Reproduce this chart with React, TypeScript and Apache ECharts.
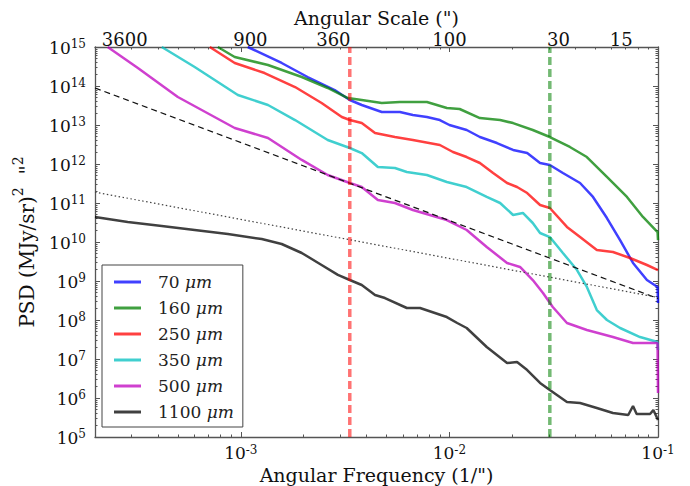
import React, { useEffect, useRef } from 'react';
import * as echarts from 'echarts';

// ---------- data ----------
const FREQ_MIN = 2e-4; // 1/"
const FREQ_MAX = 0.1;
const PSD_MIN_EXP = 5;
const PSD_MAX_EXP = 15;

const xMajorExps = [-3, -2, -1];
const yMajorExps = [5, 6, 7, 8, 9, 10, 11, 12, 13, 14, 15];
const angularScaleLabels = [3600, 900, 360, 100, 30, 15]; // arcsec

const bandNames = ['70 μm', '160 μm', '250 μm', '350 μm', '500 μm', '1100 μm'];
const bandColors = ['#0000ff', '#008000', '#ff0000', '#00bfbf', '#bf00bf', '#000000'];

// [angular frequency (1/"), PSD (MJy/sr)^2 "^2]
const psd70: number[][] = [
  [1.08e-3, 1.0e15], [1.57e-3, 3.89e14], [2.09e-3, 1.7e14], [2.82e-3, 7.89e13],
  [3.33e-3, 4.38e13], [3.8e-3, 3.26e13], [4.74e-3, 2.15e13], [5.79e-3, 2.15e13],
  [6.68e-3, 1.8e13], [7.8e-3, 1.6e13], [9.0e-3, 1.34e13], [1.0e-2, 1.0e13],
  [1.21e-2, 7.45e12], [1.4e-2, 4.92e12], [1.69e-2, 3.45e12], [2.02e-2, 2.29e12],
  [2.36e-2, 1.91e12], [2.72e-2, 1.06e12], [3.03e-2, 9.42e11], [3.5e-2, 5.87e11],
  [4.23e-2, 3.26e11], [4.88e-2, 1.43e11], [5.69e-2, 4.12e10], [6.58e-2, 1.12e10],
  [7.59e-2, 2.9e9], [8.85e-2, 1.06e9], [9.95e-2, 7.02e8], [1.0e-1, 2.73e8],
];
const psd160: number[][] = [
  [7.76e-4, 1.0e15], [9.35e-4, 5.55e14], [1.35e-3, 3.45e14], [1.96e-3, 1.7e14],
  [2.61e-3, 8.89e13], [3.26e-3, 4.92e13], [3.8e-3, 4.38e13], [4.74e-3, 3.66e13],
  [5.79e-3, 3.89e13], [7.8e-3, 3.89e13], [9.72e-3, 2.73e13], [1.12e-2, 2.57e13],
  [1.4e-2, 1.51e13], [1.75e-2, 1.34e13], [2.02e-2, 1.12e13], [2.51e-2, 7.45e12],
  [3.03e-2, 4.92e12], [3.78e-2, 2.73e12], [4.56e-2, 1.51e12], [5.69e-2, 4.65e11],
  [7.1e-2, 1.43e11], [8.47e-2, 4.38e10], [9.95e-2, 1.8e10], [1.0e-1, 1.12e10],
];
const psd250: number[][] = [
  [7.1e-4, 1.0e15], [9.35e-4, 3.89e14], [1.3e-3, 2.15e14], [1.82e-3, 9.42e13],
  [2.44e-3, 3.66e13], [3.05e-3, 1.6e13], [3.33e-3, 1.34e13], [3.8e-3, 1.12e13],
  [4.4e-3, 6.24e12], [5.48e-3, 4.92e12], [6.68e-3, 4.12e12], [9.0e-3, 3.07e12],
  [1.04e-2, 2.03e12], [1.21e-2, 1.51e12], [1.4e-2, 1.06e12], [1.62e-2, 5.87e11],
  [1.89e-2, 3.26e11], [2.11e-2, 2.57e11], [2.36e-2, 1.8e11], [2.72e-2, 8.89e10],
  [3.03e-2, 7.45e10], [3.66e-2, 2.43e10], [4.23e-2, 1.34e10], [5.09e-2, 6.24e9],
  [6.08e-2, 5.55e9], [7.34e-2, 3.89e9], [8.85e-2, 2.57e9], [1.0e-1, 1.91e9],
];
const psd350: number[][] = [
  [4.18e-4, 1.0e15], [6.01e-4, 3.07e14], [9.68e-4, 5.87e13], [1.35e-3, 3.26e13],
  [1.82e-3, 1.34e13], [2.61e-3, 4.12e12], [3.33e-3, 2.57e12], [3.8e-3, 1.91e12],
  [4.54e-3, 8.38e11], [5.48e-3, 7.89e11], [6.25e-3, 6.24e11], [7.8e-3, 5.22e11],
  [9.72e-3, 3.45e11], [1.21e-2, 2.57e11], [1.51e-2, 1.43e11], [1.75e-2, 1.0e11],
  [2.02e-2, 4.92e10], [2.25e-2, 5.55e10], [2.51e-2, 3.07e10], [2.72e-2, 1.7e10],
  [3.03e-2, 1.34e10], [3.5e-2, 5.22e9], [4.09e-2, 1.91e9], [4.56e-2, 7.02e8],
  [5.09e-2, 1.8e8], [5.69e-2, 1.0e8], [6.58e-2, 6.24e7], [8.2e-2, 3.66e7],
  [9.95e-2, 2.73e7], [1.0e-1, 1.7e7],
];
const psd500: number[][] = [
  [2.3e-4, 1.0e15], [3.21e-4, 2.9e14], [4.99e-4, 5.22e13], [9.35e-4, 8.38e12],
  [1.35e-3, 4.65e12], [1.96e-3, 1.27e12], [2.61e-3, 5.22e11], [3.33e-3, 3.26e11],
  [3.8e-3, 2.57e11], [4.54e-3, 1.19e11], [5.48e-3, 1.0e11], [6.68e-3, 6.62e10],
  [9.72e-3, 3.66e10], [1.21e-2, 2.03e10], [1.51e-2, 7.45e9], [1.89e-2, 2.9e9],
  [2.18e-2, 2.29e9], [2.51e-2, 1.06e9], [2.81e-2, 4.92e8], [3.13e-2, 2.15e8],
  [3.66e-2, 8.38e7], [4.56e-2, 5.55e7], [6.08e-2, 3.66e7], [7.59e-2, 2.57e7],
  [9.95e-2, 2.57e7], [1.0e-1, 1.34e6],
];
const psd1100: number[][] = [
  [2.0e-4, 4.38e10], [2.87e-4, 3.26e10], [4.18e-4, 2.57e10], [6.01e-4, 2.03e10],
  [8.67e-4, 1.6e10], [1.26e-3, 1.19e10], [1.57e-3, 8.89e9], [1.96e-3, 5.22e9],
  [2.44e-3, 2.57e9], [2.92e-3, 1.43e9], [3.33e-3, 1.06e9], [3.8e-3, 7.89e8],
  [4.4e-3, 4.38e8], [4.91e-3, 3.66e8], [6.25e-3, 2.03e8], [7.23e-3, 2.03e8],
  [9.72e-3, 1.19e8], [1.09e-2, 8.38e7], [1.21e-2, 6.24e7], [1.51e-2, 2.03e7],
  [1.89e-2, 7.89e6], [2.11e-2, 8.38e6], [2.36e-2, 5.22e6], [2.72e-2, 2.43e6],
  [3.03e-2, 1.6e6], [3.66e-2, 7.89e5], [4.23e-2, 7.45e5], [5.09e-2, 5.55e5],
  [6.08e-2, 4.12e5], [7.2e-2, 3.66e5], [7.59e-2, 6.24e5], [7.9e-2, 3.9e5],
  [9.16e-2, 3.9e5], [9.5e-2, 4.9e5], [9.95e-2, 2.9e5], [1.0e-1, 2.73e5],
];
const bandData = [psd70, psd160, psd250, psd350, psd500, psd1100];

// reference power laws (end points)
const slopeMinus2: number[][] = [[2e-4, 8.9e13], [1e-1, 3.55e8]];
const slopeMinus1: number[][] = [[2e-4, 1.9e11], [1e-1, 3.8e8]];

// vertical markers (angular frequency)
const redMarkerFreq = 3.33e-3;
const greenMarkerFreq = 3.03e-2;

// ---------- styling ----------
const FONT = "'DejaVu Serif', serif";
const AX = '#555';
const TXT = '#111';

const toLog = (pts: number[][]) => pts.map(([f, p]) => [Math.log10(f), Math.log10(p)]);

const minorExps = (lo: number, hi: number) => {
  const out: number[] = [];
  for (let k = Math.floor(lo); k < Math.ceil(hi); k++) {
    for (let m = 2; m <= 9; m++) {
      const v = k + Math.log10(m);
      if (v > lo + 1e-9 && v < hi - 1e-9) out.push(v);
    }
  }
  return out;
};

const xLo = Math.log10(FREQ_MIN);
const xHi = Math.log10(FREQ_MAX);
const xMinor = minorExps(xLo, xHi);
const yMinor = minorExps(PSD_MIN_EXP, PSD_MAX_EXP);
const scaleExps = angularScaleLabels.map((s) => Math.log10(1 / s));

const supRich = {
  b: { fontFamily: FONT, fontSize: 17, color: TXT, lineHeight: 18, verticalAlign: 'bottom' },
  s: { fontFamily: FONT, fontSize: 12, color: TXT, lineHeight: 8, verticalAlign: 'top' },
};

const tickStyle = { color: AX, width: 1 };

export default function App() {
  const ref = useRef<HTMLDivElement>(null);

  useEffect(() => {
    if (!ref.current) return;
    const chart = echarts.init(ref.current, null, { renderer: 'svg' });

    const baseX = {
      type: 'value',
      min: xLo,
      max: xHi,
      nameMoveOverlap: false,
      splitLine: { show: false },
      axisLine: { show: true, onZero: false, lineStyle: { color: AX, width: 1.3 } },
    };
    const baseY = {
      type: 'value',
      min: PSD_MIN_EXP,
      max: PSD_MAX_EXP,
      nameMoveOverlap: false,
      splitLine: { show: false },
      axisLine: { show: true, onZero: false, lineStyle: { color: AX, width: 1.3 } },
    };

    const curves = bandNames.map((name, i) => ({
      type: 'line',
      name,
      data: toLog(bandData[i]),
      xAxisIndex: 0,
      yAxisIndex: 0,
      symbol: 'none',
      showSymbol: false,
      clip: true,
      lineStyle: { color: bandColors[i], width: 2.5, opacity: 0.75 },
      itemStyle: { color: bandColors[i], opacity: 0.75 },
      z: 3,
    }));

    const option: any = {
      animation: false,
      backgroundColor: '#fff',
      grid: { left: 95, right: 32, top: 47, bottom: 49, containLabel: false, outerBoundsMode: 'none' },
      legend: {
        orient: 'vertical',
        left: 102,
        top: 265,
        padding: [7, 9, 5, 12],
        itemGap: 6,
        itemWidth: 27,
        itemHeight: 3,
        icon: 'rect',
        backgroundColor: '#fff',
        borderColor: '#444',
        borderWidth: 1,
        borderRadius: 0,
        data: bandNames,
        selectedMode: false,
        formatter: (name: string) => {
          const [num, unit] = name.split(' ');
          return `{n|${num} }{u|${unit}}`;
        },
        textStyle: {
          lineHeight: 20,
          rich: {
            n: { fontFamily: FONT, fontSize: 17, color: '#222', padding: [0, 0, 0, 12], lineHeight: 20 },
            u: { fontFamily: FONT, fontSize: 17, fontStyle: 'italic', color: '#222', lineHeight: 20 },
          },
        },
        z: 10,
      },
      xAxis: [
        {
          ...baseX,
          position: 'bottom',
          axisTick: { show: true, inside: true, length: 5, customValues: xMajorExps, lineStyle: tickStyle },
          axisLabel: {
            customValues: xMajorExps,
            margin: 6.5,
            formatter: (v: number) => `{b|10}{s|${Math.round(v)}}`,
            rich: supRich,
          },
          name: 'Angular Frequency (1/")',
          nameLocation: 'middle',
          nameGap: 29.5,
          nameTextStyle: { fontFamily: FONT, fontSize: 19, lineHeight: 16, color: TXT, verticalAlign: 'top' },
        },
        {
          ...baseX,
          position: 'bottom',
          axisLine: { show: false },
          axisTick: { show: true, inside: true, length: 2.5, customValues: xMinor, lineStyle: tickStyle },
          axisLabel: { show: false },
        },
        {
          ...baseX,
          position: 'top',
          axisTick: { show: true, inside: true, length: 5, customValues: xMajorExps, lineStyle: tickStyle },
          axisLabel: {
            customValues: scaleExps,
            margin: 0.5,
            fontFamily: FONT,
            fontSize: 18,
            lineHeight: 14,
            color: TXT,
            formatter: (v: number) => {
              const i = scaleExps.findIndex((e) => Math.abs(e - v) < 1e-6);
              return i >= 0 ? String(angularScaleLabels[i]) : '';
            },
          },
          name: 'Angular Scale (")',
          nameLocation: 'middle',
          nameGap: 20.5,
          nameTextStyle: { fontFamily: FONT, fontSize: 19, lineHeight: 18, color: TXT, verticalAlign: 'bottom' },
        },
        {
          ...baseX,
          position: 'top',
          axisLine: { show: false },
          axisTick: { show: true, inside: true, length: 2.5, customValues: xMinor, lineStyle: tickStyle },
          axisLabel: { show: false },
        },
      ],
      yAxis: [
        {
          ...baseY,
          position: 'left',
          axisTick: { show: true, inside: true, length: 5, customValues: yMajorExps, lineStyle: tickStyle },
          axisLabel: {
            customValues: yMajorExps,
            margin: 9,
            formatter: (v: number) => `{b|10}{s|${Math.round(v)}}`,
            rich: supRich,
          },
          name: '{b|PSD (MJy/sr)}{s|2}{b|  "}{s|2}',
          nameLocation: 'middle',
          nameRotate: 90,
          nameGap: 58,
          nameTextStyle: {
            rich: {
              b: { fontFamily: FONT, fontSize: 20, color: TXT, lineHeight: 26, verticalAlign: 'bottom' },
              s: { fontFamily: FONT, fontSize: 14, color: TXT, lineHeight: 14, verticalAlign: 'top' },
            },
          },
        },
        {
          ...baseY,
          position: 'left',
          axisLine: { show: false },
          axisTick: { show: true, inside: true, length: 2.5, customValues: yMinor, lineStyle: tickStyle },
          axisLabel: { show: false },
        },
        {
          ...baseY,
          position: 'right',
          axisTick: { show: true, inside: true, length: 5, customValues: yMajorExps, lineStyle: tickStyle },
          axisLabel: { show: false },
        },
        {
          ...baseY,
          position: 'right',
          axisLine: { show: false },
          axisTick: { show: true, inside: true, length: 2.5, customValues: yMinor, lineStyle: tickStyle },
          axisLabel: { show: false },
        },
      ],
      series: [
        ...curves,
        {
          type: 'line',
          name: 'slope -2',
          data: toLog(slopeMinus2),
          symbol: 'none',
          lineStyle: { color: '#111', width: 1.2, type: [6, 4] },
          z: 4,
        },
        {
          type: 'line',
          name: 'slope -1',
          data: toLog(slopeMinus1),
          symbol: 'none',
          lineStyle: { color: '#444', width: 1.2, type: [1.5, 2.5] },
          z: 4,
        },
        {
          type: 'line',
          name: 'red marker',
          data: [[Math.log10(redMarkerFreq), PSD_MIN_EXP], [Math.log10(redMarkerFreq), PSD_MAX_EXP]],
          symbol: 'none',
          lineStyle: { color: '#ff0000', opacity: 0.55, width: 3.5, type: [8, 4] },
          z: 5,
        },
        {
          type: 'line',
          name: 'green marker',
          data: [[Math.log10(greenMarkerFreq), PSD_MIN_EXP], [Math.log10(greenMarkerFreq), PSD_MAX_EXP]],
          symbol: 'none',
          lineStyle: { color: '#008000', opacity: 0.55, width: 3.5, type: [8, 4] },
          z: 5,
        },
      ],
    };

    chart.setOption(option);
    return () => chart.dispose();
  }, []);

  return (
    <div
      ref={ref}
      style={{ position: 'fixed', left: 0, top: 0, width: 690, height: 486, background: '#fff' }}
    />
  );
}
